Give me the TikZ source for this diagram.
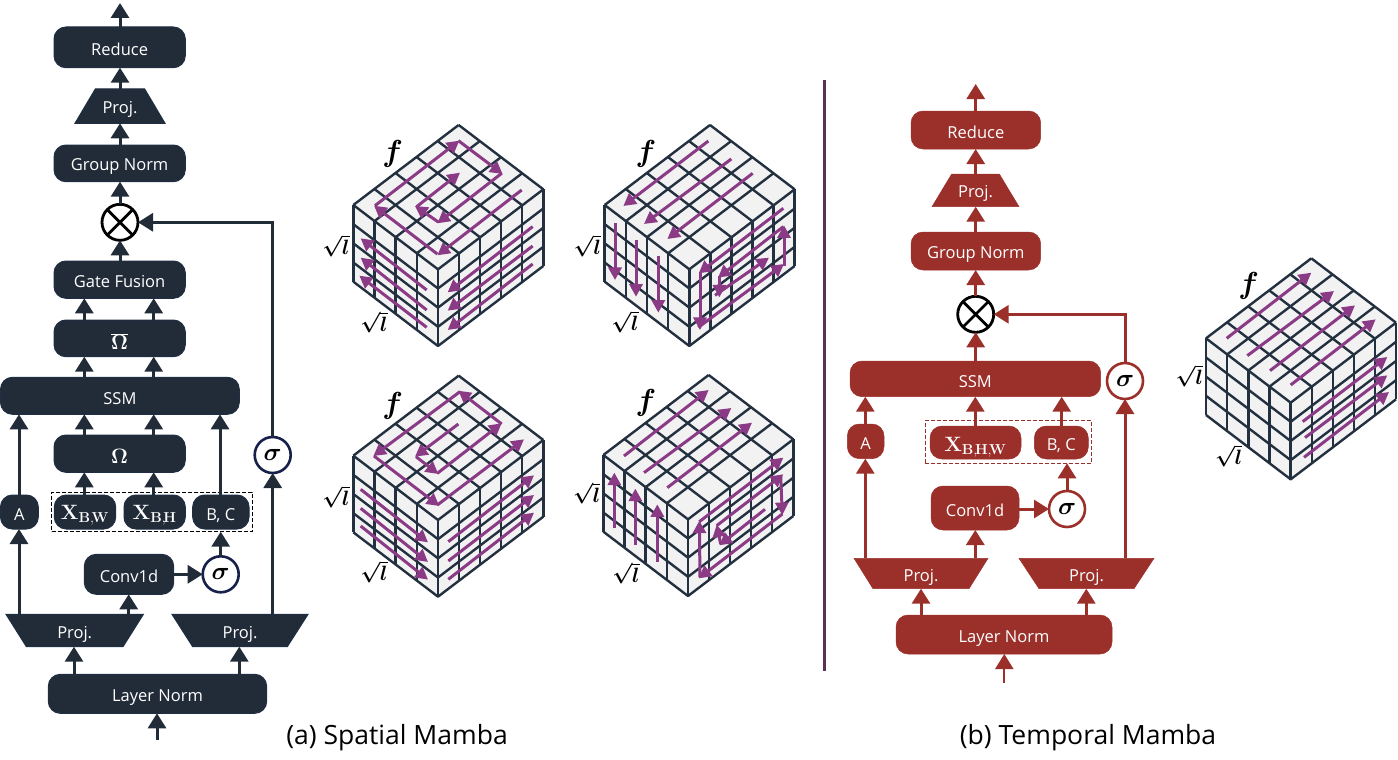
\documentclass[tikz,border=0pt]{standalone}
\usepackage[no-math]{fontspec}
\usepackage{graphicx}
\setmainfont{Open Sans}
\usetikzlibrary{arrows.meta,shapes.geometric,calc}
\definecolor{navy}{HTML}{222C39}
\definecolor{navyb}{HTML}{1F2E42}
\definecolor{sigb}{HTML}{16204A}
\definecolor{brick}{HTML}{9B2F2A}
\definecolor{purp}{HTML}{8B3A86}
\definecolor{cubeln}{HTML}{22303F}
\definecolor{cubefl}{HTML}{F2F2F2}
\definecolor{divd}{HTML}{5A3057}
\tikzset{
  boxn/.style={rounded corners=12pt,inner sep=0pt,outer sep=0pt,font=\fontsize{16.5}{18}\selectfont,text=white},
  dk/.style={fill=navy,draw=navyb,line width=1pt},
  rd/.style={fill=brick,draw=brick,line width=0.5pt},
  trapn/.style={trapezium,trapezium stretches body=true,inner sep=0pt,outer sep=0pt,font=\fontsize{16.5}{18}\selectfont,text=white},
  arr/.style={line width=3pt,-{Triangle[length=15pt,width=18pt]}},
  arrd/.style={arr,draw=navy},
  arrr/.style={arr,draw=brick},
  pa/.style={draw=purp,line width=3pt,-{Triangle[length=12.5pt,width=13pt]}},
  sig/.style={circle,fill=white,inner sep=0pt,outer sep=0pt,minimum size=36pt,line width=2.6pt,text=black,font=\fontsize{24.88}{25}\selectfont\boldmath},
  otm/.style={circle,fill=white,draw=black,inner sep=0pt,outer sep=0pt,minimum size=36pt,line width=2.8pt},
  dsh/.style={dash pattern=on 4pt off 2pt,line width=0.8pt,inner sep=0pt,outer sep=0pt},
  lab/.style={text=black,font=\fontsize{20.74}{22}\selectfont\boldmath},
  lab2/.style={text=black,font=\fontsize{24.88}{25}\selectfont\boldmath},
  capt/.style={text=black,font=\fontsize{26.5}{30}\selectfont},
  mfont/.style={font=\fontsize{20.74}{22}\selectfont},
  xfont/.style={font=\fontsize{20.74}{22}\selectfont}
}
\newcommand\rb[2]{\raisebox{\dimexpr-#1pt-1pt\relax}[4pt][4pt]{#2}}
\newcommand\xlab[1]{$\mathbf{X}_{\mathbf{#1}}$}
\newcommand\flab{\scalebox{1.22}{$f$}}
% style, name, x0, x1, y0, y1, text
\newcommand\blk[7]{%
  \pgfmathsetmacro\bw{#4-#3}\pgfmathsetmacro\bh{#6-#5}%
  \pgfmathsetmacro\bx{(#3+#4)/2}\pgfmathsetmacro\by{(#5+#6)/2}%
  \node[boxn,#1,minimum width=\bw pt,minimum height=\bh pt] (#2) at (\bx,\by) {#7};}
% style, name, xcentre, half-top, half-bottom, ytop, ybot, text
\newcommand\trp[8]{%
  \pgfmathsetmacro\bh{#7-#6}\pgfmathsetmacro\by{(#6+#7)/2}%
  \pgfmathsetmacro\bw{2*max(#4,#5)}%
  \pgfmathsetmacro\ang{atan(\bh/abs(#4-#5))}%
  \pgfmathsetmacro\rot{#4>#5?180:0}%
  \node[trapn,#1,minimum width=\bw pt,minimum height=\bh pt,trapezium left angle=\ang,trapezium right angle=\ang,shape border rotate=\rot] (#2) at (#3,\by) {\raisebox{-7.5pt}[\dimexpr\bh pt/2\relax][\dimexpr\bh pt/2\relax]{#8}};}
% top vertex in 1/3 px
\newcommand\gridcube[2]{%
  \begin{scope}[shift={(#1,#2)},draw=cubeln,line width=2.4pt,line join=round]
    \fill[cubefl] (0,0) -- (-316,240) -- (-316,470) -- (-62,663) -- (254,423) -- (254,193) -- cycle;
    \foreach \i in {0,...,5}{\draw ({-316*\i/5},{240*\i/5}) -- ++(254,193);
      \draw ({254-316*\i/5},{193+240*\i/5}) -- ++(0,230);}
    \foreach \j in {0,...,4}{\draw ({254*\j/4},{193*\j/4}) -- ++(-316,240);
      \draw ({-316+254*\j/4},{240+193*\j/4}) -- ++(0,230);}
    \foreach \k in {1,...,4}{\draw (-316,{240+230*\k/4}) -- ++(254,193) -- ++(316,-240);}
  \end{scope}}
\newcommand\pseg[2]{\draw[pa] #1 -- #2;}
\begin{document}
\begin{tikzpicture}[x=1pt,y=-1pt]
\useasboundingbox (0,0) rectangle (1398,760);
% ---------- Spatial ----------
\blk{dk}{red1}{54}{185.3}{27}{67.7}{\rb{7}{Reduce}}
\trp{dk}{pt1}{120}{24.7}{45}{89}{123.3}{Proj.}
\blk{dk}{gn1}{54}{185.3}{145}{181.7}{\rb{6.5}{Group Norm}}
\node[otm] (ot1) at (120,222.3) {};
\draw[line width=2.8pt,black] (ot1.45) -- (ot1.225) (ot1.135) -- (ot1.315);
\blk{dk}{gf1}{54}{185.3}{261}{298.3}{\rb{6.5}{Gate Fusion}}
\blk{dk,mfont}{ob1}{54}{185.3}{320}{356.7}{\rb{10.5}{$\overline{\mathbf{\Omega}}$}}
\blk{dk}{ssm1}{0.5}{239.3}{377.3}{414.3}{\rb{7.5}{SSM}}
\blk{dk,mfont}{om1}{54}{185.3}{435}{472.3}{\rb{8.5}{$\mathbf{\Omega}$}}
\blk{dk}{a1}{0.5}{38.3}{495}{529}{\rb{7}{A}}
\blk{dk,xfont}{xw1}{54.3}{115.7}{495}{529}{\rb{6}{\xlab{B,\!W}}}
\blk{dk,xfont}{xh1}{124}{185.3}{495}{529}{\rb{6}{\xlab{B,\!H}}}
\blk{dk}{bc1}{192.7}{249}{495}{529}{\rb{7}{B, C}}
\node[dsh,draw=black,minimum width=200.6pt,minimum height=39.4pt] (ds1) at (152,512) {};
\blk{dk}{cv1}{84.3}{173.7}{554.3}{594.3}{\rb{7}{Conv1d}}
\node[sig,draw=sigb] (s1a) at (220.7,574.3) {$\sigma$};
\node[sig,draw=sigb] (s1b) at (272.7,455) {$\sigma$};
\trp{dk}{pl1}{74.7}{68.7}{48.3}{614.3}{646.7}{Proj.}
\trp{dk}{pr1}{240}{68}{47.3}{614.3}{646.7}{Proj.}
\blk{dk}{ln1}{48.3}{266.7}{674.3}{713.3}{\rb{7}{Layer Norm}}
\coordinate (in1) at (157,740);
\coordinate (out1) at (120,3);
\draw[arrd] (in1) -- (ln1.south -| in1);
\draw[arrd] (ln1.north -| 74,0) -- (pl1.south -| 74,0);
\draw[arrd] (ln1.north -| 239.3,0) -- (pr1.south -| 239.3,0);
\draw[arrd] (pl1.north -| 19,0) -- (a1.south -| 19,0);
\draw[arrd] (a1.north -| 19,0) -- (ssm1.south -| 19,0);
\draw[arrd] (pl1.north -| 128.7,0) -- (cv1.south -| 128.7,0);
\draw[arrd] (cv1.east |- s1a) -- (s1a.west);
\draw[arrd] (s1a.north) -- (ds1.south -| s1a.north);
\draw[arrd] (bc1.north -| 220,0) -- (ssm1.south -| 220,0);
\draw[arrd] (xw1.north -| 84.3,0) -- (om1.south -| 84.3,0);
\draw[arrd] (xh1.north -| 153.7,0) -- (om1.south -| 153.7,0);
\draw[arrd] (om1.north -| 84.3,0) -- (ssm1.south -| 84.3,0);
\draw[arrd] (om1.north -| 153.7,0) -- (ssm1.south -| 153.7,0);
\draw[arrd] (ssm1.north -| 84.3,0) -- (ob1.south -| 84.3,0);
\draw[arrd] (ssm1.north -| 153.7,0) -- (ob1.south -| 153.7,0);
\draw[arrd] (ob1.north -| 84.3,0) -- (gf1.south -| 84.3,0);
\draw[arrd] (ob1.north -| 153.7,0) -- (gf1.south -| 153.7,0);
\draw[arrd] (gf1.north -| ot1) -- (ot1.south);
\draw[arrd] (ot1.north) -- (gn1.south -| ot1);
\draw[arrd] (gn1.north -| ot1) -- (pt1.south -| ot1);
\draw[arrd] (pt1.north -| ot1) -- (red1.south -| ot1);
\draw[arrd] (red1.north -| ot1) -- (out1);
\draw[arrd] (pr1.north -| s1b) -- (s1b.south);
\draw[arrd] (s1b.north) |- (ot1.east);
% ---------- Divider ----------
\coordinate (dvt) at (824.7,80);
\coordinate (dvb) at (824.7,671);
\draw[divd,line width=2.8pt] (dvt) -- (dvb);
% ---------- Temporal ----------
\blk{rd}{red2}{911}{1040.7}{111}{149}{\rb{7}{Reduce}}
\trp{rd}{pt2}{975.5}{23.8}{43.5}{174}{206.7}{Proj.}
\blk{rd}{gn2}{911}{1040.7}{232}{270}{\rb{6.5}{Group Norm}}
\node[otm] (ot2) at (975.7,314.3) {};
\draw[line width=2.8pt,black] (ot2.45) -- (ot2.225) (ot2.135) -- (ot2.315);
\blk{rd}{ssm2}{850}{1100.7}{361}{396.7}{\rb{7.5}{SSM}}
\node[sig,draw=brick] (s2b) at (1125,381) {$\sigma$};
\blk{rd}{a2}{847.3}{884}{424}{458.7}{\rb{7}{A}}
\blk{rd,xfont}{xb2}{930}{1021}{426}{459}{\rb{7.5}{\xlab{B,\!H,\!W}}}
\blk{rd}{bc2}{1034.3}{1088.3}{426}{459}{\rb{7}{B, C}}
\node[dsh,draw=brick,minimum width=166.4pt,minimum height=43pt] (ds2) at (1008.5,441.8) {};
\blk{rd}{cv2}{931}{1019}{486}{530}{\rb{7}{Conv1d}}
\node[sig,draw=brick] (s2a) at (1067,509) {$\sigma$};
\trp{rd}{pl2}{921}{67}{48}{558.3}{588.7}{Proj.}
\trp{rd}{pr2}{1086.5}{67.5}{47.5}{558.3}{588.7}{Proj.}
\blk{rd}{ln2}{896}{1112}{615}{654}{\rb{7}{Layer Norm}}
\coordinate (in2) at (1004.3,683);
\coordinate (out2) at (975.7,84);
\draw[arrr,line width=2pt] (in2) -- (ln2.south -| in2);
\draw[arrr] (ln2.north -| 921,0) -- (pl2.south -| 921,0);
\draw[arrr] (ln2.north -| 1086.3,0) -- (pr2.south -| 1086.3,0);
\draw[arrr] (pl2.north -| 865.3,0) -- (a2.south -| 865.3,0);
\draw[arrr] (a2.north -| 865.3,0) -- (ssm2.south -| 865.3,0);
\draw[arrr] (pl2.north -| 975.3,0) -- (cv2.south -| 975.3,0);
\draw[arrr] (cv2.east |- s2a) -- (s2a.west);
\draw[arrr] (s2a.north) -- (ds2.south -| s2a.north);
\draw[arrr] (bc2.north -| 1061.7,0) -- (ssm2.south -| 1061.7,0);
\draw[arrr] (xb2.north -| 975.3,0) -- (ssm2.south -| 975.3,0);
\draw[arrr] (pr2.north -| s2b) -- (s2b.south);
\draw[arrr] (s2b.north) |- (ot2.east);
\draw[arrr] (ssm2.north -| ot2) -- (ot2.south);
\draw[arrr] (ot2.north) -- (gn2.south -| ot2);
\draw[arrr] (gn2.north -| ot2) -- (pt2.south -| ot2);
\draw[arrr] (pt2.north -| ot2) -- (red2.south -| ot2);
\draw[arrr] (red2.north -| ot2) -- (out2);
% ---------- Cube 1 ----------
\begin{scope}[shift={(320,110)},x=0.33333pt,y=-0.33333pt]
\gridcube{416}{45}
\pseg{(605,240)}{(352,436)}\pseg{(352,432)}{(162,287)}\pseg{(165,287)}{(418,92)}\pseg{(415,92)}{(548,192)}\pseg{(545,190)}{(352,340)}\pseg{(355,336)}{(285,288)}\pseg{(290,290)}{(420,188)}
\pseg{(320,540)}{(122,385)}\pseg{(320,600)}{(122,443)}\pseg{(320,652)}{(118,497)}
\pseg{(638,350)}{(383,547)}\pseg{(638,408)}{(383,602)}\pseg{(638,462)}{(383,660)}
\node[lab2] (f1) at (218,133) {\flab};
\node[lab] (l1a) at (48,407) {$\sqrt{l}$};
\node[lab] (l1b) at (162,637) {$\sqrt{l}$};
\end{scope}
% ---------- Cube 2 ----------
\begin{scope}[shift={(570,110)},x=0.33333pt,y=-0.33333pt]
\gridcube{420}{45}
\pseg{(415,93)}{(160,288)}\pseg{(484,147)}{(222,342)}\pseg{(548,190)}{(292,387)}
\pseg{(135,340)}{(135,510)}\pseg{(198,390)}{(198,560)}\pseg{(265,437)}{(265,608)}
\pseg{(640,295)}{(386,490)}\pseg{(390,488)}{(390,660)}\pseg{(385,652)}{(642,462)}\pseg{(642,468)}{(642,346)}\pseg{(640,350)}{(444,503)}\pseg{(448,498)}{(448,562)}\pseg{(435,556)}{(597,443)}
\node[lab2] (f2) at (228,132) {\flab};
\node[lab] (l2a) at (52,407) {$\sqrt{l}$};
\node[lab] (l2b) at (165,635) {$\sqrt{l}$};
\end{scope}
% ---------- Cube 3 ----------
\begin{scope}[shift={(320,360)},x=0.33333pt,y=-0.33333pt]
\gridcube{416}{47}
\pseg{(415,192)}{(285,290)}\pseg{(288,290)}{(355,342)}\pseg{(352,340)}{(545,190)}\pseg{(545,192)}{(415,92)}\pseg{(420,95)}{(160,288)}\pseg{(162,288)}{(358,438)}\pseg{(352,435)}{(612,238)}
\pseg{(122,388)}{(324,547)}\pseg{(122,445)}{(324,606)}\pseg{(122,498)}{(324,659)}
\pseg{(385,545)}{(642,346)}\pseg{(385,603)}{(642,405)}\pseg{(385,658)}{(642,458)}
\node[lab2] (f3) at (218,137) {\flab};
\node[lab] (l3a) at (48,410) {$\sqrt{l}$};
\node[lab] (l3b) at (162,635) {$\sqrt{l}$};
\end{scope}
% ---------- Cube 4 ----------
\begin{scope}[shift={(570,360)},x=0.33333pt,y=-0.33333pt]
\gridcube{416}{45}
\pseg{(162,288)}{(416,90)}\pseg{(222,338)}{(484,144)}\pseg{(292,383)}{(546,188)}
\pseg{(133,505)}{(133,338)}\pseg{(196,555)}{(196,386)}\pseg{(262,605)}{(262,433)}
\pseg{(585,448)}{(448,556)}\pseg{(452,552)}{(440,494)}\pseg{(440,497)}{(640,343)}\pseg{(632,345)}{(637,465)}\pseg{(637,462)}{(386,655)}\pseg{(390,652)}{(388,482)}\pseg{(388,485)}{(640,293)}
\node[lab2] (f4) at (228,130) {\flab};
\node[lab] (l4a) at (50,400) {$\sqrt{l}$};
\node[lab] (l4b) at (168,640) {$\sqrt{l}$};
\end{scope}
% ---------- Cube 5 ----------
\begin{scope}[shift={(1170,240)},x=0.33333pt,y=-0.33333pt]
\gridcube{424}{55}
\pseg{(170,295)}{(424,98)}\pseg{(232,347)}{(492,153)}\pseg{(300,392)}{(555,196)}\pseg{(362,435)}{(617,238)}
\pseg{(398,545)}{(652,351)}\pseg{(405,593)}{(652,406)}\pseg{(402,652)}{(657,456)}
\node[lab2] (f5) at (236,138) {\flab};
\node[lab] (l5a) at (58,407) {$\sqrt{l}$};
\node[lab] (l5b) at (176,648) {$\sqrt{l}$};
\end{scope}
% ---------- Captions ----------
\node[capt] (cap1) at (397,738) {(a) Spatial Mamba};
\node[capt] (cap2) at (1088,738) {(b) Temporal Mamba};
\end{tikzpicture}
\end{document}
